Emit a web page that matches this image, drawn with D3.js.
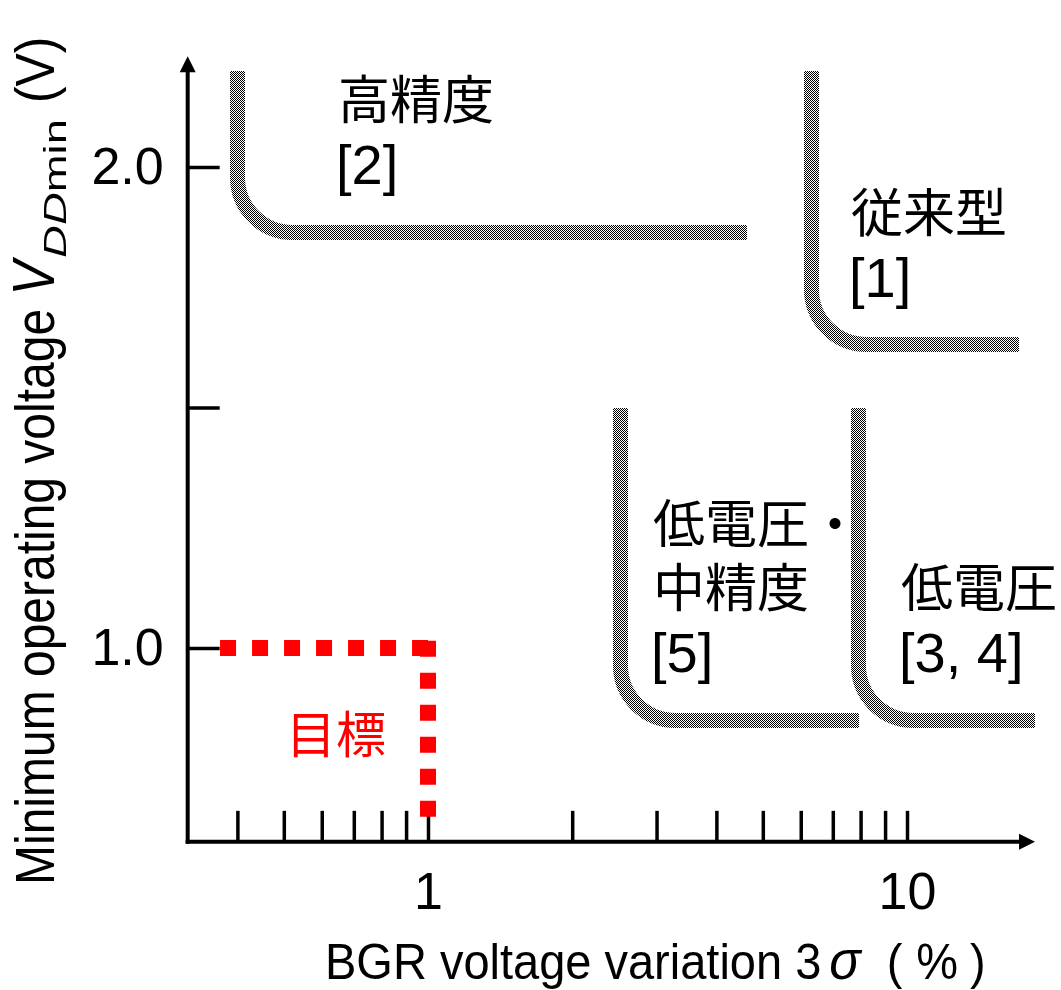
<!DOCTYPE html>
<html>
<head>
<meta charset="utf-8">
<script src="https://cdn.jsdelivr.net/npm/d3@7"></script>
<style>
  html, body { margin: 0; padding: 0; background: #fff; }
  #wrap { position: relative; width: 1061px; height: 990px; }
  #wrap canvas, #wrap svg { position: absolute; left: 0; top: 0; display: block; }
</style>
</head>
<body>
<div id="wrap">
<canvas id="curves" width="1061" height="990"></canvas>
<svg id="chart" width="1061" height="990"></svg>
</div>
<script>
// ---------------- data ----------------
const xTicks = [0.4, 0.5, 0.6, 0.7, 0.8, 0.9, 1, 2, 3, 4, 5, 6, 7, 8, 9, 10];
const xLabeledTicks = [1, 10];
const xTickLabels = ["1", "10"];
const yTicks = [1.0, 1.5, 2.0];
const yTickLabels = ["1.0", "", "2.0"];
const xAxisExtent = [0.315, 18.5];   // BGR voltage variation 3σ (%)
const yAxisExtent = [0.597, 2.23];   // V_DDmin (V)

// Regions (L-shaped boundaries): vertical at x, bending into a horizontal floor at y
const curveNames = ["高精度 [2]", "従来型 [1]", "低電圧・中精度 [5]", "低電圧 [3, 4]"];
const curveWallX = [0.4, 6.3, 2.52, 7.9];
const curveTopY = [2.2, 2.2, 1.5, 1.5];
const curveFloorY = [1.865, 1.632, 0.85, 0.85];
const curveEndX = [4.63, 17.1, 7.95, 18.5];

const labelLines = [["高精度", "[2]"], ["従来型", "[1]"], ["低電圧・", "中精度", "[5]"], ["低電圧", "[3, 4]"]];

// Target (目標): 1 % variation at 1.0 V
const targetX = [0.368, 1.0];
const targetY = [0.649, 1.015];
const targetLabel = "目標";

// ---------------- layout ----------------
const svg = d3.select("#chart");
const x = d3.scaleLog().domain([1, 10]).range([428, 907]);
const y = d3.scaleLinear().domain([1, 2]).range([648, 167]);
const latin = "'Liberation Sans', Arial, sans-serif";
const cjk = "'Noto Sans CJK JP', sans-serif";
const cornerR = 55;
const labelPos = [[338, 119], [851, 232], [653, 543], [901, 607]];
const lineGap = 64;

const x0 = x(xAxisExtent[0]), x1 = x(xAxisExtent[1]);
const y0 = y(yAxisExtent[0]), y1 = y(yAxisExtent[1]);

// ---- curves (checker-textured thick strokes, drawn on a canvas via d3.path) ----
const ctx = d3.select("#curves").node().getContext("2d");
ctx.imageSmoothingEnabled = false;
const tile = document.createElement("canvas");
tile.width = 2; tile.height = 2;
const tctx = tile.getContext("2d");
tctx.fillStyle = "#fff"; tctx.fillRect(0, 0, 2, 2);
tctx.fillStyle = "#000"; tctx.fillRect(0, 0, 1, 1); tctx.fillRect(1, 1, 1, 1);
const checker = ctx.createPattern(tile, "repeat");

curveNames.forEach((name, i) => {
  const wx = Math.round(x(curveWallX[i])), ty = Math.round(y(curveTopY[i])),
        fy = Math.round(y(curveFloorY[i])), ex = Math.round(x(curveEndX[i]));
  const p = d3.path();
  p.moveTo(wx + 0.5, ty);
  p.arcTo(wx + 0.5, fy + 0.5, ex, fy + 0.5, cornerR);
  p.lineTo(ex, fy + 0.5);
  ctx.save();
  ctx.strokeStyle = checker;
  ctx.lineWidth = 15;
  ctx.lineCap = "butt";
  ctx.stroke(new Path2D(p.toString()));
  ctx.restore();
});

// ---- axes ----
const xAxis = d3.axisBottom(x).tickValues(xTicks).tickSize(-31).tickPadding(30)
  .tickFormat(d => { const k = xLabeledTicks.indexOf(d); return k >= 0 ? xTickLabels[k] : ""; });
const gx = svg.append("g").attr("transform", `translate(0,${y0})`).call(xAxis);
gx.select(".domain").remove();
gx.selectAll(".tick line").attr("stroke", "#000").attr("stroke-width", 3.5);
gx.selectAll(".tick text").attr("font-family", latin).attr("font-size", 52).attr("fill", "#000");

const yAxis = d3.axisLeft(y).tickValues(yTicks).tickSize(-32).tickPadding(24)
  .tickFormat((d, i) => yTickLabels[i]);
const gy = svg.append("g").attr("transform", `translate(${x0},0)`).call(yAxis);
gy.select(".domain").remove();
gy.selectAll(".tick line").attr("stroke", "#000").attr("stroke-width", 3.5);
gy.selectAll(".tick text").attr("font-family", latin).attr("font-size", 52).attr("fill", "#000");

// axis lines with arrowheads
svg.append("line").attr("x1", x0 - 2).attr("y1", y0).attr("x2", x1 - 10).attr("y2", y0)
  .attr("stroke", "#000").attr("stroke-width", 4);
svg.append("path").attr("d", `M${x1},${y0} L${x1 - 16},${y0 - 8} L${x1 - 16},${y0 + 8} Z`).attr("fill", "#000");
svg.append("line").attr("x1", x0).attr("y1", y0 + 2).attr("x2", x0).attr("y2", y1 + 10)
  .attr("stroke", "#000").attr("stroke-width", 4);
svg.append("path").attr("d", `M${x0},${y1} L${x0 - 8},${y1 + 16} L${x0 + 8},${y1 + 16} Z`).attr("fill", "#000");

// ---- target ----
svg.append("line")
  .attr("x1", x(targetX[0])).attr("y1", y(1.0)).attr("x2", x(targetX[1])).attr("y2", y(1.0))
  .attr("stroke", "#ff0000").attr("stroke-width", 16).attr("stroke-dasharray", "16 16");
svg.append("line")
  .attr("x1", x(1.0)).attr("y1", y(targetY[0])).attr("x2", x(1.0)).attr("y2", y(targetY[1]))
  .attr("stroke", "#ff0000").attr("stroke-width", 16).attr("stroke-dasharray", "16 16");
svg.append("text").attr("x", 286).attr("y", 753)
  .attr("font-family", cjk).attr("font-size", 50).attr("fill", "#ff0000").text(targetLabel);

// ---- region labels ----
labelLines.forEach((lines, i) => {
  lines.forEach((t, j) => {
    const isCJK = /[\u3000-\u9fff]/.test(t);
    svg.append("text")
      .attr("x", labelPos[i][0] + (isCJK ? 0 : -2))
      .attr("y", labelPos[i][1] + j * lineGap + (isCJK ? 0 : 1))
      .attr("font-family", isCJK ? cjk : latin)
      .attr("font-size", isCJK ? 52 : 56)
      .attr("fill", "#000").text(t);
  });
});

// ---- axis titles ----
const xt = svg.append("text")
  .attr("transform", "translate(325,979) scale(1,1.06)")
  .attr("font-family", latin).attr("font-size", 47).attr("fill", "#000");
xt.append("tspan").text("BGR voltage variation 3");
xt.append("tspan").attr("font-style", "italic").attr("font-size", 52).attr("dx", 8).text("σ");
xt.append("tspan").attr("dx", 26).text("(");
xt.append("tspan").attr("dx", 14).text("%");
xt.append("tspan").attr("dx", 12).text(")");

// y title: main part, subscript (wide), unit — chained along the axis
const yMainBase = 54, ySubBase = 66, yStart = 885;
const yt = svg.append("text")
  .attr("transform", `translate(${yMainBase},${yStart}) rotate(-90) scale(1,1.14)`)
  .attr("font-family", latin).attr("font-size", 48).attr("fill", "#000");
yt.append("tspan").text("Minimum operating voltage ");
yt.append("tspan").attr("font-style", "italic").attr("font-size", 52).text("V");
const lenMain = yt.node().getComputedTextLength();

const subStart = yStart - lenMain - 3;
const ys = svg.append("text")
  .attr("transform", `translate(${ySubBase},${subStart}) rotate(-90) scale(1.42,1)`)
  .attr("font-family", latin).attr("font-size", 32).attr("fill", "#000");
ys.append("tspan").attr("font-style", "italic").text("DD");
ys.append("tspan").text("min");
const lenSub = ys.node().getComputedTextLength() * 1.42;

const unitStart = subStart - lenSub - 16;
svg.append("text")
  .attr("transform", `translate(${yMainBase},${unitStart}) rotate(-90) scale(1.04,1.14)`)
  .attr("font-family", latin).attr("font-size", 48).attr("fill", "#000").text("(V)");
</script>
</body>
</html>
